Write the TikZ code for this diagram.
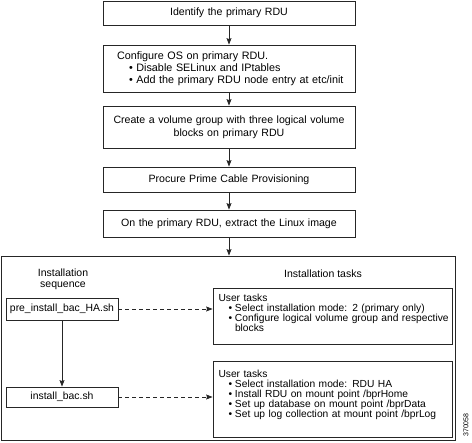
\documentclass[tikz,border=0pt]{standalone}
\usepackage{fontspec}
\setmainfont{Liberation Sans}
\usetikzlibrary{arrows.meta}

\newcommand{\fbul}[1]{\par\hspace*{12pt}\makebox[7.4pt][l]{\textbullet}\parbox[t]{210pt}{\raggedright #1}}
\newcommand{\tbul}[1]{\par\hspace*{10pt}\makebox[6.5pt][l]{\textbullet}\parbox[t]{222pt}{\raggedright #1}}

\tikzset{
  flowbox/.style={draw=black!85, line width=0.8pt, text width=242pt, inner xsep=5pt, align=center, font=\fontsize{10.6}{13}\selectfont},
  seqbox/.style={draw=black!85, line width=0.8pt, minimum width=112pt, inner sep=0pt, font=\fontsize{10.4}{12}\selectfont},
  taskbox/.style={draw=black!85, line width=0.8pt, text width=228pt, inner xsep=5.5pt, inner ysep=0pt, align=left, font=\fontsize{10.25}{10}\selectfont},
  flowarrow/.style={draw=black!85, line width=0.8pt, -{Stealth[length=6.5pt,width=5pt,inset=1pt]}},
  dasharrow/.style={flowarrow, dash pattern=on 4pt off 3pt},
}

\begin{document}
\begin{tikzpicture}[x=1pt,y=-1pt]
    \useasboundingbox (0,0) rectangle (472,443);

    % main column
    \node[flowbox, minimum height=24pt] (identify) at (229,13) {Identify the primary RDU};
    \node[flowbox, align=left, text width=224pt, inner xsep=14pt, minimum height=47pt, font=\fontsize{10.8}{12}\selectfont] (config) at (229,68.5)
        {Configure OS on primary RDU.\fbul{Disable SELinux and IPtables}\fbul{Add the primary RDU node entry at etc/init}};
    \node[flowbox, minimum height=42pt] (volume) at (229,127) {Create a volume group with three logical volume\\blocks on primary RDU};
    \node[flowbox, minimum height=25pt] (procure) at (229,179.5) {Procure Prime Cable Provisioning};
    \node[flowbox, minimum height=27pt] (extract) at (229,223.5) {On the primary RDU, extract the Linux image};

    \draw[flowarrow] (identify) -- (config);
    \draw[flowarrow] (config) -- (volume);
    \draw[flowarrow] (volume) -- (procure);
    \draw[flowarrow] (procure) -- (extract);

    % installation part
    \node[draw=black!85, line width=0.8pt, minimum width=454pt, minimum height=184pt] (install) at (228,348) {};
    \draw[flowarrow] (extract) -- (extract |- install.north);

    \node[align=center, font=\fontsize{10.5}{11}\selectfont] (seqlabel) at (63,278.8) {Installation\\sequence};
    \node[font=\fontsize{10.5}{11}\selectfont] (tasklabel) at (323,273.3) {Installation tasks};

    \node[seqbox, minimum height=22pt] (preha) at (62,309) {pre\_install\_bac\_HA.sh};
    \node[seqbox, minimum height=20pt] (bacsh) at (62,397) {install\_bac.sh};

    \node[taskbox, minimum height=56.5pt] (tasksone) at (332.5,316.2)
        {User tasks\tbul{Select installation mode: 2 (primary only)}\tbul{Configure logical volume group and respective\\blocks\rule[-7pt]{0pt}{0pt}}};
    \node[taskbox, minimum height=75.3pt] (taskstwo) at (332.5,399.3)
        {User tasks\tbul{Select installation mode: RDU HA}\tbul{Install RDU on mount point /bprHome}\tbul{Set up database on mount point /bprData}\tbul{Set up log collection at mount point /bprLog\rule[-12pt]{0pt}{0pt}}};

    \draw[flowarrow] (preha) -- (bacsh);
    \draw[dasharrow] (preha) -- (preha -| tasksone.west);
    \draw[dasharrow] (bacsh) -- (bacsh -| taskstwo.west);

    \node[rotate=90, font=\fontsize{7}{7}\selectfont] (figid) at (466,425) {370058};

\end{tikzpicture}
\end{document}
